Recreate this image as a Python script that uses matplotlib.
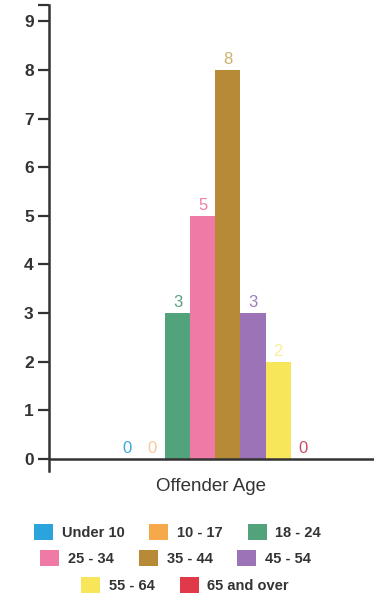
import matplotlib
import matplotlib.pyplot as plt
from matplotlib.patches import Patch

matplotlib.use('Agg')
plt.rcParams['font.family'] = ['Liberation Sans', 'DejaVu Sans']

age_groups = ['Under 10', '10 - 17', '18 - 24', '25 - 34', '35 - 44', '45 - 54', '55 - 64', '65 and over']
offenders = [0, 0, 3, 5, 8, 3, 2, 0]
bar_colors = ['#2ba3dc', '#f5a94a', '#52a37c', '#f07aa6', '#b78a38', '#9b73b6', '#f8e65a', '#e0394a']
label_colors = ['#3aa6de', '#f8c99c', '#5aa283', '#ef7fa8', '#cbb26e', '#9c7fbb', '#f9ef9a', '#c94c68']
y_ticks = list(range(10))

fig = plt.figure(figsize=(3.74, 5.96), dpi=100)
ax = fig.add_axes([0.131, 0.21, 0.869, 0.781])

positions = list(range(len(age_groups)))
ax.bar(positions, offenders, width=1.0, color=bar_colors)
for x, v, c in zip(positions, offenders, label_colors):
    ax.annotate(str(v), (x, v), xytext=(0, 2), textcoords='offset points',
                ha='center', va='bottom', color=c, fontsize=12)

ax.set_xlim(-3.1, 9.8)
ax.set_ylim(-0.25, 9.33)
ax.set_yticks(y_ticks)
ax.set_yticks([9.33], minor=True)
ax.set_xticks([])
ax.tick_params(axis='y', which='both', direction='out', length=8, width=1.6,
               colors='#333333', labelsize=12.5, pad=3)
for lbl in ax.get_yticklabels():
    lbl.set_fontweight('bold')

for s in ['top', 'right', 'bottom']:
    ax.spines[s].set_visible(False)
ax.spines['left'].set_linewidth(1.8)
ax.spines['left'].set_color('#333333')
ax.axhline(0, color='#333333', lw=1.8, xmin=-0.01)

ax.set_xlabel('Offender Age', fontsize=13.5, color='#333333', labelpad=5)

# legend drawn as three centred rows, like the original flow layout
rows = [[0, 1, 2], [3, 4, 5], [6, 7]]
row_y = [0.108, 0.064, 0.019]
row_x = [0.475, 0.47, 0.495]
for idx, xx, yy in zip(rows, row_x, row_y):
    handles = [Patch(facecolor=bar_colors[i], label=age_groups[i]) for i in idx]
    leg = fig.legend(handles=handles, loc='center', bbox_to_anchor=(xx, yy),
                     ncol=len(idx), frameon=False, fontsize=10.5,
                     handlelength=1.3, handleheight=1.3, handletextpad=0.6,
                     columnspacing=1.7, borderaxespad=0)
    for t in leg.get_texts():
        t.set_color('#333333')
        t.set_fontweight('bold')

fig.savefig('out.png', dpi=100)
